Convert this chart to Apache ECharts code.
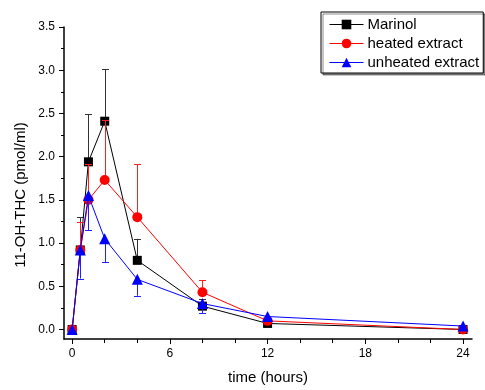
<!DOCTYPE html>
<html>
<head>
<meta charset="utf-8">
<script src="https://cdn.jsdelivr.net/npm/echarts@6/dist/echarts.min.js"></script>
<style>
html,body{margin:0;padding:0;background:#fff;}
#chart{width:485px;height:390px;}
</style>
</head>
<body>
<div id="chart"></div>
<script>
// time points (hours)
var times = [0, 0.5, 1, 2, 4, 8, 12, 24];
// mean values (pmol/ml)
var marinol   = [0, 0.92, 1.94, 2.41, 0.80, 0.27, 0.07, 0.00];
var heated    = [0, 0.92, 1.50, 1.73, 1.30, 0.43, 0.10, 0.00];
var unheated  = [0, 0.92, 1.55, 1.05, 0.58, 0.30, 0.15, 0.04];
// one-sided error bar lengths (Marinol and heated drawn upward, unheated downward)
var marinolErr  = [0, 0.38, 0.55, 0.60, 0.25, 0.08, 0.02, 0];
var heatedErr   = [0, 0.32, 0.41, 0.69, 0.61, 0.14, 0.02, 0];
var unheatedErr = [0, 0.33, 0.40, 0.27, 0.19, 0.11, 0.02, 0];
var seriesNames = ['Marinol', 'heated extract', 'unheated extract'];
var xLabelValues = [0, 6, 12, 18, 24];
var xMinorTicks = [2, 4, 8, 10, 14, 16, 20, 22];
var yLabelValues = [0, 0.5, 1.0, 1.5, 2.0, 2.5, 3.0, 3.5];
var yMinorTicks = [0.25, 0.75, 1.25, 1.75, 2.25, 2.75, 3.25];
var xTitle = 'time (hours)';
var yTitle = '11-OH-THC (pmol/ml)';

function pairs(v) { return times.map(function (t, i) { return [t, v[i]]; }); }
function errData(v, e, dir) {
  return times.map(function (t, i) { return [t, v[i], v[i] + dir * e[i]]; });
}
function errSeries(v, e, dir, color, z) {
  return {
    type: 'custom', z: z, silent: true,
    xAxisIndex: 0, yAxisIndex: 0,
    data: errData(v, e, dir),
    renderItem: function (params, api) {
      var p0 = api.coord([api.value(0), api.value(1)]);
      var p1 = api.coord([api.value(0), api.value(2)]);
      if (Math.abs(p1[1] - p0[1]) < 0.5) return null;
      var x = Math.round(p0[0]) + 0.5;
      var cw = 3.5;
      return {
        type: 'group',
        children: [
          { type: 'line', shape: { x1: x, y1: p0[1], x2: x, y2: p1[1] }, style: { stroke: color, lineWidth: 1 } },
          { type: 'line', shape: { x1: x - cw, y1: Math.round(p1[1]) + 0.5, x2: x + cw, y2: Math.round(p1[1]) + 0.5 }, style: { stroke: color, lineWidth: 1 } }
        ]
      };
    }
  };
}

var chart = echarts.init(document.getElementById('chart'), null, { renderer: 'canvas' });
var font = 'Arial, "Liberation Sans", sans-serif';
var xMin = -0.5, xMax = 24.55, yMin = -0.11, yMax = 3.5;

var option = {
  animation: false,
  backgroundColor: '#fff',
  textStyle: { fontFamily: font },
  grid: { left: 64, right: 13, top: 27, bottom: 50.5 },
  legend: {
    orient: 'vertical',
    left: 321, top: 12,
    padding: [5, 4, 3, 8],
    itemWidth: 34, itemHeight: 12, itemGap: 4,
    backgroundColor: '#fff',
    borderColor: '#000', borderWidth: 1, borderRadius: 0,
    shadowColor: 'rgba(0,0,0,0.45)', shadowBlur: 0, shadowOffsetX: 2, shadowOffsetY: 2,
    lineStyle: { width: 1 },
    textStyle: { fontFamily: font, fontSize: 15, color: '#000', padding: [0, 0, 0, -1] },
    data: seriesNames
  },
  xAxis: [{
    type: 'value', min: xMin, max: xMax,
    name: xTitle, nameLocation: 'middle', nameGap: 31,
    nameTextStyle: { fontFamily: font, fontSize: 15, color: '#000' },
    axisLine: { show: true, onZero: false, lineStyle: { color: '#000', width: 1.5 } },
    axisTick: { show: true, customValues: xLabelValues, length: 5, lineStyle: { color: '#000', width: 1 } },
    axisLabel: { customValues: xLabelValues, margin: 9, fontSize: 12, color: '#000', fontFamily: font },
    splitLine: { show: false }
  }, {
    type: 'value', min: xMin, max: xMax, position: 'bottom',
    axisLine: { show: false, onZero: false },
    axisTick: { show: true, customValues: xMinorTicks, length: 4, lineStyle: { color: '#000', width: 1 } },
    axisLabel: { show: false },
    splitLine: { show: false }
  }],
  yAxis: [{
    type: 'value', min: yMin, max: yMax,
    axisLine: { show: true, onZero: false, lineStyle: { color: '#000', width: 1.5 } },
    axisTick: { show: true, customValues: yLabelValues, length: 5, lineStyle: { color: '#000', width: 1 } },
    axisLabel: {
      customValues: yLabelValues, margin: 9, fontSize: 12, color: '#000', fontFamily: font,
      formatter: function (v) { return v.toFixed(1); }
    },
    splitLine: { show: false }
  }, {
    type: 'value', min: yMin, max: yMax, position: 'left',
    axisLine: { show: false, onZero: false },
    axisTick: { show: true, customValues: yMinorTicks, length: 3, lineStyle: { color: '#000', width: 1 } },
    axisLabel: { show: false },
    splitLine: { show: false }
  }],
  graphic: [{
    type: 'text', x: 21, y: 195, rotation: Math.PI / 2,
    style: { text: yTitle, font: '15px ' + font, fill: '#000', align: 'center', verticalAlign: 'middle' }
  }],
  series: [
    errSeries(marinol, marinolErr, 1, '#333', 2),
    {
      name: seriesNames[0], type: 'line', data: pairs(marinol), z: 3,
      symbol: 'rect', symbolSize: 9, showAllSymbol: true,
      lineStyle: { color: '#000', width: 1 }, itemStyle: { color: '#000' }
    },
    errSeries(heated, heatedErr, 1, '#ff2020', 4),
    {
      name: seriesNames[1], type: 'line', data: pairs(heated), z: 5,
      symbol: 'circle', symbolSize: 10, showAllSymbol: true,
      lineStyle: { color: '#ff0000', width: 1 }, itemStyle: { color: '#ff0000' }
    },
    errSeries(unheated, unheatedErr, -1, '#2020ff', 6),
    {
      name: seriesNames[2], type: 'line', data: pairs(unheated), z: 7,
      symbol: 'triangle', symbolSize: 11, showAllSymbol: true,
      lineStyle: { color: '#0000ff', width: 1 }, itemStyle: { color: '#0000ff' }
    }
  ]
};
chart.setOption(option);
</script>
</body>
</html>
